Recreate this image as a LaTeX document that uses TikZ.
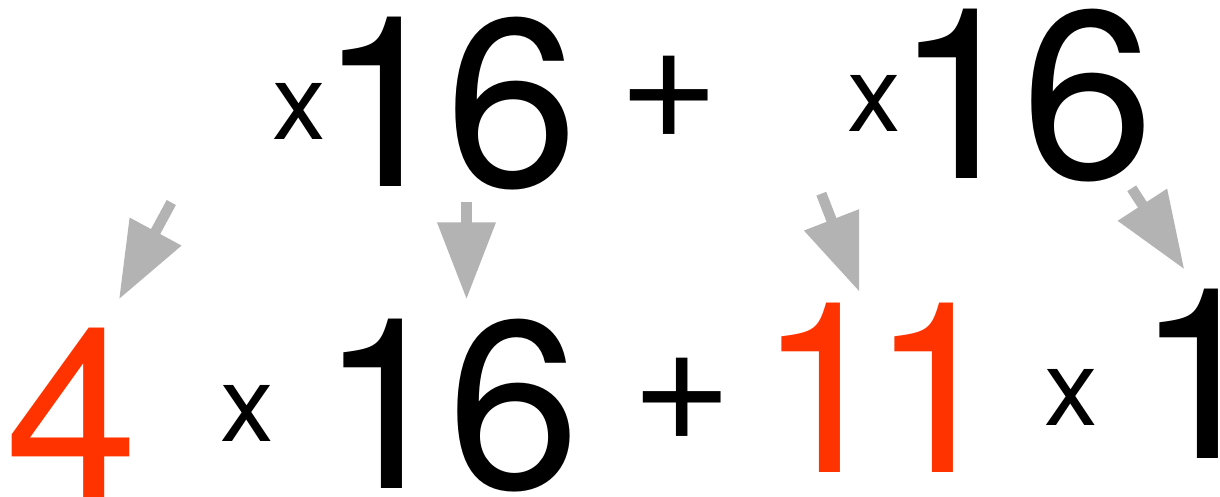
\documentclass[tikz,border=0pt]{standalone}
\usepackage{fontspec}
\setmainfont{TeX Gyre Heros}
\newfontfamily\plusfont{Liberation Sans}
\usetikzlibrary{arrows.meta}
\definecolor{numred}{RGB}{255,51,0}
\definecolor{arrowgray}{RGB}{179,179,179}
\tikzset{
  glyph/.style={anchor=base west, inner sep=0pt, outer sep=0pt},
  big/.style={glyph, font=\fontsize{239}{239}\selectfont},
  times/.style={glyph, font=\fontsize{107}{107}\selectfont},
  plussign/.style={glyph, font=\plusfont\fontsize{160}{160}\selectfont},
  fatarrow/.style={draw=arrowgray, line width=10.5pt, line cap=butt,
    -{Triangle[length=77pt,width=56pt]}}
}
\begin{document}
\begin{tikzpicture}[x=1pt,y=-1pt]
\useasboundingbox (0,0) rectangle (1220,496);
% top row
\node[times] (tx1) at (272.8,139) {x};
\node[big] (t16a) at (318.6,186) {1\kern-6pt 6};
\node[plussign] (tplus) at (622.6,148) {+};
\node[times] (tx2) at (847.1,131) {x};
\node[big] (t16b) at (894.2,178.3) {1\kern-6pt 6};
% bottom row
\node[big, text=numred] (b4) at (5.5,497) {4};
\node[times] (bx1) at (220,441) {x};
\node[big] (b16) at (319.2,488.3) {1\kern-5pt 6};
\node[plussign] (bplus) at (635,450.5) {+};
\node[big, text=numred] (b11) at (757.8,472.7) {1\kern-20pt 1};
\node[times] (bx2) at (1044,425.7) {x};
\node[big] (b1) at (1135.5,458.3) {1};
% arrows
\coordinate (a1s) at (171.3,202.5);
\coordinate (a1e) at (119,299.3);
\coordinate (a2s) at (466.5,202);
\coordinate (a2e) at (466.5,299.3);
\coordinate (a3s) at (821.3,193.7);
\coordinate (a3e) at (859.3,291.7);
\coordinate (a4s) at (1131.7,188.3);
\coordinate (a4e) at (1184.3,269.3);
\draw[fatarrow] (a1s) -- (a1e);
\draw[fatarrow] (a2s) -- (a2e);
\draw[fatarrow] (a3s) -- (a3e);
\draw[fatarrow] (a4s) -- (a4e);
\end{tikzpicture}
\end{document}
